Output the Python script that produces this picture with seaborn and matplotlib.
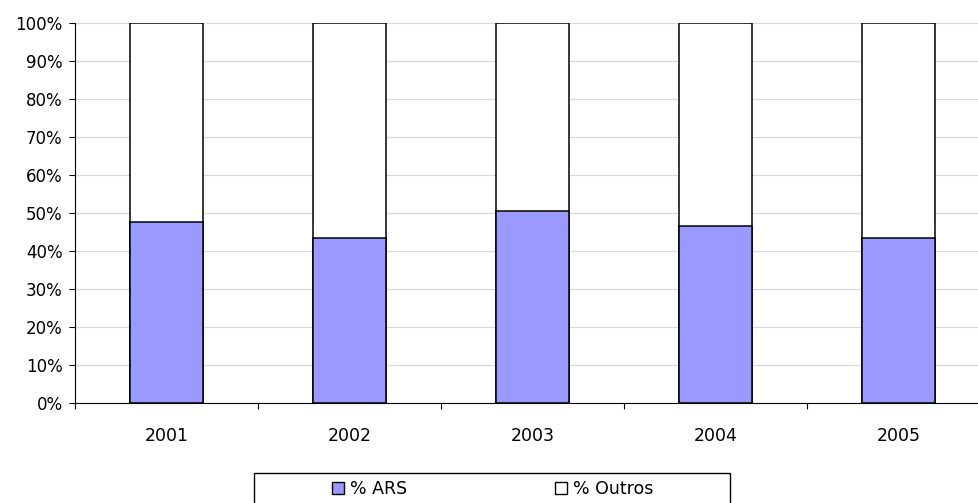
import matplotlib
matplotlib.use("Agg")
import matplotlib.pyplot as plt
import seaborn as sns
import pandas as pd
from matplotlib.patches import Patch, Rectangle
from matplotlib.ticker import FuncFormatter

# dados
anos = ["2001", "2002", "2003", "2004", "2005"]
pct_ars = [47.7, 43.5, 50.4, 46.7, 43.5]
pct_outros = [100 - v for v in pct_ars]

df = pd.DataFrame({"ano": anos, "ars": pct_ars, "outros": pct_outros})
df["total"] = df["ars"] + df["outros"]

sns.set_style("white")
plt.rcParams["font.family"] = ["DejaVu Sans"]
plt.rcParams["text.color"] = "black"
plt.rcParams["xtick.color"] = "black"
plt.rcParams["ytick.color"] = "black"

W, H = 979, 503
fig = plt.figure(figsize=(W / 100, H / 100), dpi=100)
ax = fig.add_axes([75 / W, 1 - 403 / H, 915 / W, 380 / H])

# barra total (outros) em branco, ARS por cima
sns.barplot(data=df, x="ano", y="total", color="white", edgecolor="black",
            linewidth=1.1, width=0.40, saturation=1, ax=ax, zorder=2)
sns.barplot(data=df, x="ano", y="ars", color="#9999FF", edgecolor="black",
            linewidth=1.1, width=0.40, saturation=1, ax=ax, zorder=3)

ax.set_ylim(0, 100)
ax.set_xlim(-0.5, 4.5)
ax.set_yticks(range(0, 101, 10))
ax.yaxis.set_major_formatter(FuncFormatter(lambda v, p: f"{int(v)}%"))
ax.grid(axis="y", color="#d9d9d9", linewidth=0.9, zorder=0)
ax.set_axisbelow(True)
ax.set_xlabel("")
ax.set_ylabel("")

for s in ["top", "right"]:
    ax.spines[s].set_visible(False)
ax.spines["left"].set_color("black")
ax.spines["bottom"].set_color("black")

# ticks entre categorias no eixo x
ax.set_xticks([i + 0.5 for i in range(-1, 5)], minor=True)
ax.tick_params(axis="x", which="minor", bottom=True, length=4.5, width=0.8,
               color="black", direction="out")
ax.tick_params(axis="x", which="major", bottom=True, length=0, pad=17, labelsize=12.5)
ax.tick_params(axis="y", left=True, length=4, width=0.8, color="black",
               direction="out", pad=5, labelsize=12)

# legenda com moldura própria
fig.patches.append(Rectangle((254 / W, -0.02), 476 / W, 0.02 + 1 - 473 / H,
                             transform=fig.transFigure, facecolor="white",
                             edgecolor="black", linewidth=1))
handles = [Patch(facecolor="#9999FF", edgecolor="black", label="% ARS"),
           Patch(facecolor="white", edgecolor="black", label="% Outros")]
fig.legend(handles=handles, ncol=2, loc="center",
           bbox_to_anchor=(492.5 / W, 1 - 489 / H), frameon=False,
           fontsize=12.5, handlelength=0.7, handleheight=0.7,
           handletextpad=0.35, columnspacing=8.5)

fig.savefig("out.png", dpi=100)
